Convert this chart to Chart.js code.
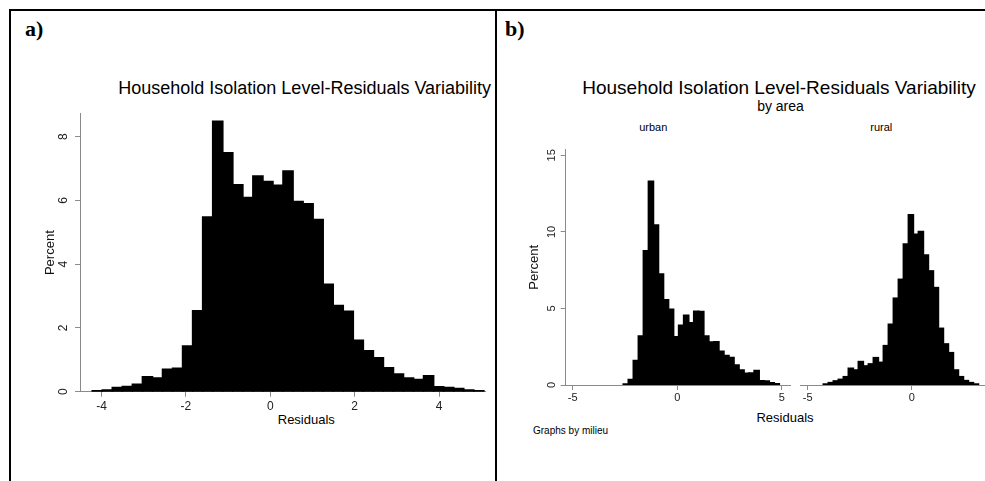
<!DOCTYPE html>
<html>
<head>
<meta charset="utf-8">
<script src="https://cdn.jsdelivr.net/npm/chart.js@4.4.1/dist/chart.umd.min.js"></script>
<style>
  html, body { margin: 0; padding: 0; background: #fff; }
  body { width: 985px; height: 481px; position: relative; overflow: hidden; font-family: "Liberation Sans", Arial, sans-serif; }
  .rule { position: absolute; background: #000; }
  .txt { position: absolute; white-space: nowrap; line-height: 1; color: #000; }
  .c { text-align: center; width: 500px; }
  .lab { font-family: "Liberation Serif", "Times New Roman", serif; font-weight: bold; font-size: 22px; }
  canvas { position: absolute; }
</style>
</head>
<body>

<!-- table rules -->
<div class="rule" style="left:9px;top:9px;width:976px;height:2px"></div>
<div class="rule" style="left:9px;top:9px;width:2px;height:472px"></div>
<div class="rule" style="left:495px;top:9px;width:2px;height:472px"></div>

<div class="txt lab" style="left:25px;top:17.6px">a)</div>
<div class="txt lab" style="left:505px;top:17.6px">b)</div>

<!-- panel a texts -->
<div class="txt c" style="left:54.7px;top:79.1px;font-size:18px">Household Isolation Level-Residuals Variability</div>
<div class="txt c" style="left:56.3px;top:413.3px;font-size:13px">Residuals</div>

<!-- panel b texts -->
<div class="txt c" style="left:529px;top:78.2px;font-size:19px">Household Isolation Level-Residuals Variability</div>
<div class="txt c" style="left:530.5px;top:99.2px;font-size:14px">by area</div>
<div class="txt c" style="left:403.3px;top:122.4px;font-size:11px">urban</div>
<div class="txt c" style="left:631.3px;top:122.4px;font-size:11px">rural</div>
<div class="txt c" style="left:535px;top:411px;font-size:13px">Residuals</div>
<div class="txt" style="left:533px;top:425.5px;font-size:10px">Graphs by milieu</div>

<canvas id="histA" width="465" height="330" style="left:30px;top:98px"></canvas>
<canvas id="histUrban" width="280" height="290" style="left:520px;top:140px"></canvas>
<canvas id="histRural" width="195" height="290" style="left:790px;top:140px"></canvas>

<script>
// panel a: all households
const binStartA = -4.22;
const binWidthA = 0.238;
const percentA = [0.03, 0.05, 0.13, 0.16, 0.23, 0.47, 0.43, 0.70, 0.73, 1.43,
                  2.54, 5.48, 8.48, 7.49, 6.49, 6.09, 6.76, 6.59, 6.47, 6.92,
                  5.96, 5.89, 5.40, 3.37, 2.70, 2.52, 1.61, 1.28, 1.06, 0.75,
                  0.55, 0.43, 0.38, 0.50, 0.15, 0.13, 0.10, 0.05, 0.03];
const residualTicksA = [-4, -2, 0, 2, 4];
const percentTicksA = [0, 2, 4, 6, 8];

// panel b: by area
const binWidthB = 0.2405;
const binStartUrban = -2.58;
const percentUrban = [0.06, 0.35, 1.60, 3.20, 8.76, 13.30, 10.45, 7.25, 5.56, 4.95,
                      3.14, 3.90, 4.55, 4.06, 4.82, 4.80, 3.20, 2.80, 2.82, 2.20,
                      1.92, 1.80, 1.30, 0.98, 0.76, 0.78, 0.94, 0.28, 0.25, 0.15, 0.08];
const binStartRural = -4.25;
const percentRural = [0.06, 0.15, 0.26, 0.36, 0.53, 1.07, 0.96, 1.50, 1.22, 1.35,
                      1.75, 1.45, 2.52, 3.89, 5.56, 6.77, 9.04, 10.90, 9.66, 9.83,
                      8.33, 7.31, 6.24, 3.63, 2.63, 2.07, 0.96, 0.53, 0.28, 0.15, 0.06];
const residualTicksUrban = [-5, 0, 5];
const residualTicksRural = [-5, 0];   // right side of the rural panel is cut off
const percentTicksB = [0, 5, 10, 15];

const axisGrey = '#8a8a8a';
const fontFam = '"Liberation Sans", Arial, sans-serif';

function toBins(start, width, values) {
  return values.map((v, i) => ({ x: start + (i + 0.5) * width, y: v }));
}

function histogram(id, cfg) {
  return new Chart(document.getElementById(id), {
    type: 'bar',
    data: {
      datasets: [{
        data: toBins(cfg.start, cfg.width, cfg.values),
        backgroundColor: '#000',
        borderWidth: 0,
        inflateAmount: 0.8,
        barPercentage: 1,
        categoryPercentage: 1
      }]
    },
    options: {
      responsive: false,
      animation: false,
      layout: { padding: cfg.padding },
      plugins: { legend: { display: false }, tooltip: { enabled: false } },
      scales: {
        x: {
          type: 'linear',
          min: cfg.xMin,
          max: cfg.xMax,
          offset: false,
          grid: { display: true, drawOnChartArea: false, drawTicks: true, tickLength: 5, color: axisGrey, offset: false },
          border: { display: true, color: axisGrey, width: 1 },
          ticks: { font: { family: fontFam, size: cfg.tickSize }, color: '#222', padding: cfg.xPad,
                   maxRotation: 0, minRotation: 0, autoSkip: false, callback: v => String(v) },
          afterBuildTicks: s => { s.ticks = cfg.xTicks.map(v => ({ value: v })); },
          afterFit: s => { s.height = cfg.xHeight; }
        },
        y: {
          min: 0,
          max: cfg.yMax,
          display: cfg.showY,
          grid: { display: true, drawOnChartArea: false, drawTicks: true, tickLength: 5, color: axisGrey },
          border: { display: true, color: axisGrey, width: 1 },
          ticks: { font: { family: fontFam, size: cfg.tickSize }, color: '#222', padding: cfg.yPad,
                   minRotation: 90, maxRotation: 90, crossAlign: 'center', callback: v => String(v) },
          title: { display: true, text: 'Percent', color: '#111', font: { family: fontFam, size: 13 },
                   padding: { top: cfg.titlePad, bottom: 0 } },
          afterBuildTicks: s => { s.ticks = cfg.yTicks.map(v => ({ value: v })); },
          afterFit: s => { s.width = cfg.yWidth; }
        }
      }
    }
  });
}

histogram('histA', {
  start: binStartA, width: binWidthA, values: percentA,
  xMin: -4.51, xMax: 5.09, xTicks: residualTicksA,
  yMax: 8.72, yTicks: percentTicksA, showY: true,
  padding: { left: 0, right: 10, top: 5, bottom: 0 },
  xHeight: 36.3, yWidth: 50, tickSize: 12, xPad: 3, yPad: 8.4, titlePad: 12.2
});

histogram('histUrban', {
  start: binStartUrban, width: binWidthB, values: percentUrban,
  xMin: -5.33, xMax: 5.42, xTicks: residualTicksUrban,
  yMax: 15.38, yTicks: percentTicksB, showY: true,
  padding: { left: 0, right: 9.3, top: 5, bottom: 0 },
  xHeight: 45, yWidth: 45.7, tickSize: 11, xPad: 1, yPad: 2.9, titlePad: 6.2
});

histogram('histRural', {
  start: binStartRural, width: binWidthB, values: percentRural,
  xMin: -5.37, xMax: 3.52, xTicks: residualTicksRural,
  yMax: 15.38, yTicks: percentTicksB, showY: false,
  padding: { left: 10, right: 0, top: 5, bottom: 0 },
  xHeight: 45, yWidth: 0, tickSize: 11, xPad: 1, yPad: 0, titlePad: 0
});
</script>
</body>
</html>
